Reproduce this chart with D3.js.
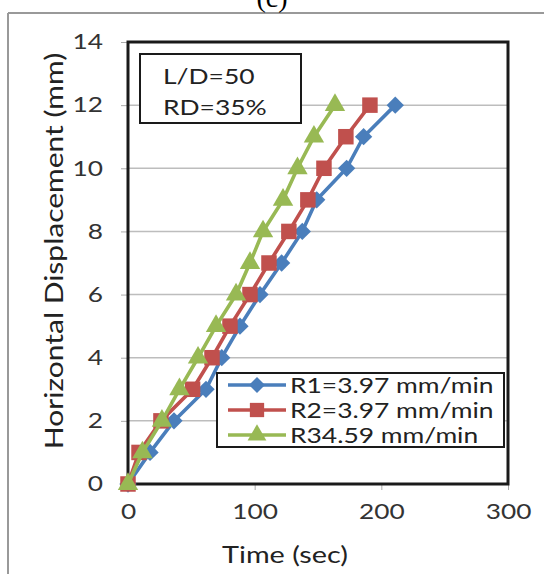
<!DOCTYPE html>
<html>
<head>
<meta charset="utf-8">
<script src="https://cdn.jsdelivr.net/npm/d3@7"></script>
<style>
body{margin:0;background:#fff;}
svg{display:block;}
</style>
</head>
<body>
<div id="chart"></div>
<script>
const displacement = [0,1,2,3,4,5,6,7,8,9,10,11,12];
const timeR1 = [0,17.4,36.3,61.6,74,88.4,104.2,121.3,137.6,149,172.6,186,211];
const timeR2 = [0,8.7,26,51,66.3,80.5,96.3,111.3,127,142,154.7,172,191];
const timeR3 = [0,11.4,26.8,40.6,55.3,69.5,85.3,96.3,106.6,122.4,133.8,146.8,163.4];
const seriesNames = ["R1=3.97 mm/min","R2=3.97 mm/min","R34.59 mm/min"];
const xTicks = [0,100,200,300];
const yTicks = [0,2,4,6,8,10,12,14];
const annotation = ["L/D=50","RD=35%"];
const title = "(c)";
const xTitle = "Time (sec)";
const yTitle = "Horizontal Displacement (mm)";

const W=544,H=574;
const m={left:128,right:36,top:42,bottom:90};
const svg=d3.select("#chart").append("svg").attr("width",W).attr("height",H);
const font="Lato, 'Open Sans', sans-serif";

// horizontal stretch of glyphs, as in the reference
function stretch(sel,k){
  sel.each(function(){
    const len=this.getComputedTextLength();
    d3.select(this).attr("textLength",len*k).attr("lengthAdjust","spacingAndGlyphs");
  });
}

// outer frame
svg.append("line").attr("x1",8).attr("x2",W).attr("y1",13).attr("y2",13).attr("stroke","#999").attr("stroke-width",2);
svg.append("line").attr("x1",8).attr("x2",8).attr("y1",13).attr("y2",H).attr("stroke","#999").attr("stroke-width",2);

// title
svg.append("text").attr("x",272).attr("y",7).attr("text-anchor","middle")
  .attr("font-family","'Liberation Serif', serif").attr("font-size",28).attr("fill","#000").text(title);

const x=d3.scaleLinear().domain([0,300]).range([m.left,W-m.right]);
const y=d3.scaleLinear().domain([0,14]).range([H-m.bottom,m.top]);

// gridlines
svg.append("g").selectAll("line").data(yTicks.filter(d=>d>0&&d<14)).join("line")
  .attr("x1",x(0)).attr("x2",x(300)).attr("y1",d=>y(d)).attr("y2",d=>y(d))
  .attr("stroke","#bdbdbd").attr("stroke-width",1.5);

// axes
const yAxis=d3.axisLeft(y).tickValues(yTicks).tickSize(7).tickPadding(18);
const gy=svg.append("g").attr("transform",`translate(${x(0)},0)`).call(yAxis);
gy.select(".domain").remove();
gy.selectAll(".tick line").attr("stroke","#aaa");
gy.selectAll(".tick text").attr("font-family",font).attr("font-size",21).attr("fill","#333");
stretch(gy.selectAll(".tick text"),1.25);

const xAxis=d3.axisBottom(x).tickValues(xTicks).tickSize(6).tickPadding(14);
const gx=svg.append("g").attr("transform",`translate(0,${y(0)})`).call(xAxis);
gx.select(".domain").remove();
gx.selectAll(".tick line").attr("stroke","#aaa");
gx.selectAll(".tick text").attr("font-family",font).attr("font-size",21).attr("fill","#333");
stretch(gx.selectAll(".tick text"),1.25);

// plot border
svg.append("rect").attr("x",x(0)).attr("y",y(14)).attr("width",x(300)-x(0)).attr("height",y(0)-y(14))
  .attr("fill","none").attr("stroke","#1a1a1a").attr("stroke-width",3);

// axis titles
const xt=svg.append("text").attr("x",285).attr("y",563).attr("text-anchor","middle")
  .attr("font-family",font).attr("font-size",24).attr("fill","#222").text(xTitle);
stretch(xt,1.2);
const yt=svg.append("text").attr("transform","translate(63,251) rotate(-90)").attr("text-anchor","middle")
  .attr("font-family",font).attr("font-size",25).attr("fill","#222").text(yTitle);
stretch(yt,1.2);

// series
const colors=["#4a7ebb","#c0504d","#98b954"];
const symbols=[d3.symbolSquare,d3.symbolSquare,d3.symbolTriangle];
const rot=[45,0,0];
const sizes=[150,240,180];
const allTimes=[timeR1,timeR2,timeR3];
const line=d3.line().x(d=>x(d[0])).y(d=>y(d[1]));
allTimes.forEach((times,i)=>{
  const pts=times.map((t,j)=>[t,displacement[j]]);
  const g=svg.append("g");
  g.append("path").datum(pts).attr("d",line).attr("fill","none").attr("stroke",colors[i]).attr("stroke-width",3.6);
  g.selectAll("path.mk").data(pts).join("path").attr("class","mk")
    .attr("transform",d=>`translate(${x(d[0])},${y(d[1])}) rotate(${rot[i]})`)
    .attr("d",d3.symbol().type(symbols[i]).size(sizes[i])).attr("fill",colors[i]);
});

// annotation box
svg.append("rect").attr("x",140).attr("y",54).attr("width",161).attr("height",69)
  .attr("fill","#fff").attr("stroke","#1a1a1a").attr("stroke-width",2);
annotation.forEach((t,i)=>{
  const tx=svg.append("text").attr("x",163).attr("y",84+i*31).attr("font-family",font).attr("font-size",22).attr("fill","#222").text(t);
  stretch(tx,1.2);
});

// legend
const lg=svg.append("g");
lg.append("rect").attr("x",217).attr("y",373).attr("width",287).attr("height",74)
  .attr("fill","#fff").attr("stroke","#1a1a1a").attr("stroke-width",2);
seriesNames.forEach((n,i)=>{
  const cy=385+i*25;
  lg.append("line").attr("x1",228).attr("x2",286).attr("y1",cy).attr("y2",cy).attr("stroke",colors[i]).attr("stroke-width",3.6);
  lg.append("path").attr("transform",`translate(257,${cy}) rotate(${rot[i]})`).attr("d",d3.symbol().type(symbols[i]).size(sizes[i]*0.85)).attr("fill",colors[i]);
  const tx=lg.append("text").attr("x",290).attr("y",cy+8).attr("font-family",font).attr("font-size",22).attr("fill","#222").text(n);
  stretch(tx,1.2);
});
</script>
</body>
</html>
